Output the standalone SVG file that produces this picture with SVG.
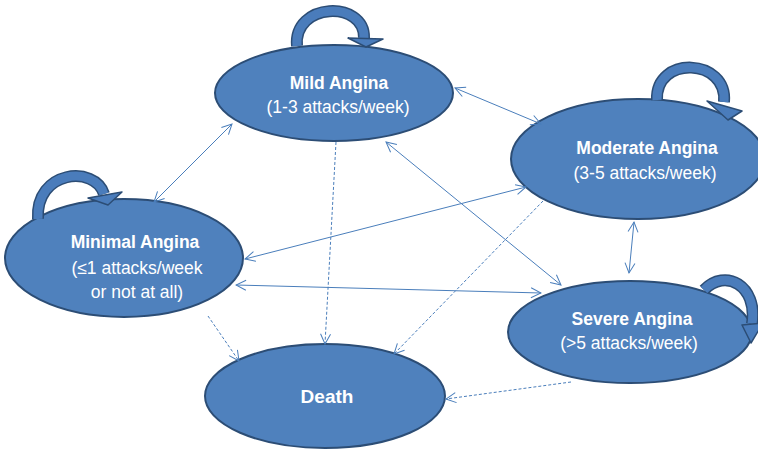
<svg xmlns="http://www.w3.org/2000/svg" width="758" height="449" viewBox="0 0 758 449">
<defs>
<style>
.node{fill:#4f81bd;stroke:#2c4d75;stroke-width:2}
.t{font-family:"Liberation Sans",Arial,sans-serif;fill:#fff;text-anchor:middle;font-size:17.5px}
.b{font-weight:bold}
.c{fill:none;stroke:#4a7ebb;stroke-width:1}
.d{stroke-dasharray:3 2}
.lo{fill:none;stroke:#2c4d75;stroke-width:12}
.li{fill:none;stroke:#4a7cbb;stroke-width:9}
.lh{fill:#4a7cbb;stroke:#2c4d75;stroke-width:1.5;stroke-linejoin:round}
</style>
<marker id="ah" viewBox="0 0 12 12" refX="11" refY="6" markerWidth="12" markerHeight="12" markerUnits="userSpaceOnUse" orient="auto-start-reverse">
<path d="M1,1 L11,6 L1,11" fill="none" stroke="#4a7ebb" stroke-width="1"/>
</marker>
</defs>
<rect width="758" height="449" fill="#fff"/>
<g id="mild">
<ellipse class="node" cx="334" cy="93" rx="119" ry="48"/>
<text class="t b" x="339" y="89">Mild Angina</text>
<text class="t" x="338" y="113">(1-3 attacks/week)</text>
</g>
<g id="moderate">
<ellipse class="node" cx="638" cy="159" rx="127" ry="60"/>
<text class="t b" x="647" y="154">Moderate Angina</text>
<text class="t" x="645" y="179">(3-5 attacks/week)</text>
</g>
<g id="minimal">
<ellipse class="node" cx="124" cy="258" rx="119" ry="59"/>
<text class="t b" x="135" y="248">Minimal Angina</text>
<text class="t" x="137" y="274">(≤1 attacks/week</text>
<text class="t" x="137" y="298">or not at all)</text>
</g>
<g id="severe">
<ellipse class="node" cx="630" cy="332" rx="122" ry="51"/>
<text class="t b" x="632" y="325">Severe Angina</text>
<text class="t" x="629" y="349">(&gt;5 attacks/week)</text>
</g>
<g id="death">
<ellipse class="node" cx="325" cy="396" rx="120" ry="52"/>
<text class="t b" x="327" y="403" style="font-size:19px">Death</text>
</g>
<g id="loops">
<path class="lo" d="M297,46 C293,2 365,0 364,38"/><path class="li" d="M297,46 C293,2 365,0 364,38"/>
<polygon class="lh" points="348,38 383,39 366,47"/>
<path class="lo" d="M657,100 C655,55 728,58 724,102"/><path class="li" d="M657,100 C655,55 728,58 724,102"/>
<polygon class="lh" points="707,101 742,111 728,120"/>
<path class="lo" d="M38,219 C35,170 95,165 104,194"/><path class="li" d="M38,219 C35,170 95,165 104,194"/>
<polygon class="lh" points="88,198 122,192 108,205"/>
<path class="lo" d="M704,290 C725,268 758,285 752,324"/><path class="li" d="M704,290 C725,268 758,285 752,324"/>
<polygon class="lh" points="742,325 763,323 751,343"/>
</g>
<g id="connectors">
<line class="c" x1="232" y1="124" x2="154" y2="202" marker-start="url(#ah)" marker-end="url(#ah)"/>
<line class="c" x1="455" y1="88" x2="541" y2="124" marker-start="url(#ah)" marker-end="url(#ah)"/>
<line class="c" x1="386" y1="142" x2="561" y2="285" marker-start="url(#ah)" marker-end="url(#ah)"/>
<line class="c" x1="245" y1="259" x2="526" y2="187" marker-start="url(#ah)" marker-end="url(#ah)"/>
<line class="c" x1="236" y1="285" x2="541" y2="293" marker-start="url(#ah)" marker-end="url(#ah)"/>
<line class="c" x1="634" y1="222" x2="629" y2="273" marker-start="url(#ah)" marker-end="url(#ah)"/>
<line class="c d" x1="336" y1="142" x2="325" y2="344" marker-end="url(#ah)"/>
<line class="c d" x1="208" y1="316" x2="239" y2="361" marker-end="url(#ah)"/>
<line class="c d" x1="543" y1="201" x2="394" y2="354" marker-end="url(#ah)"/>
<line class="c d" x1="571" y1="382" x2="446" y2="399" marker-end="url(#ah)"/>
</g>
</svg>
